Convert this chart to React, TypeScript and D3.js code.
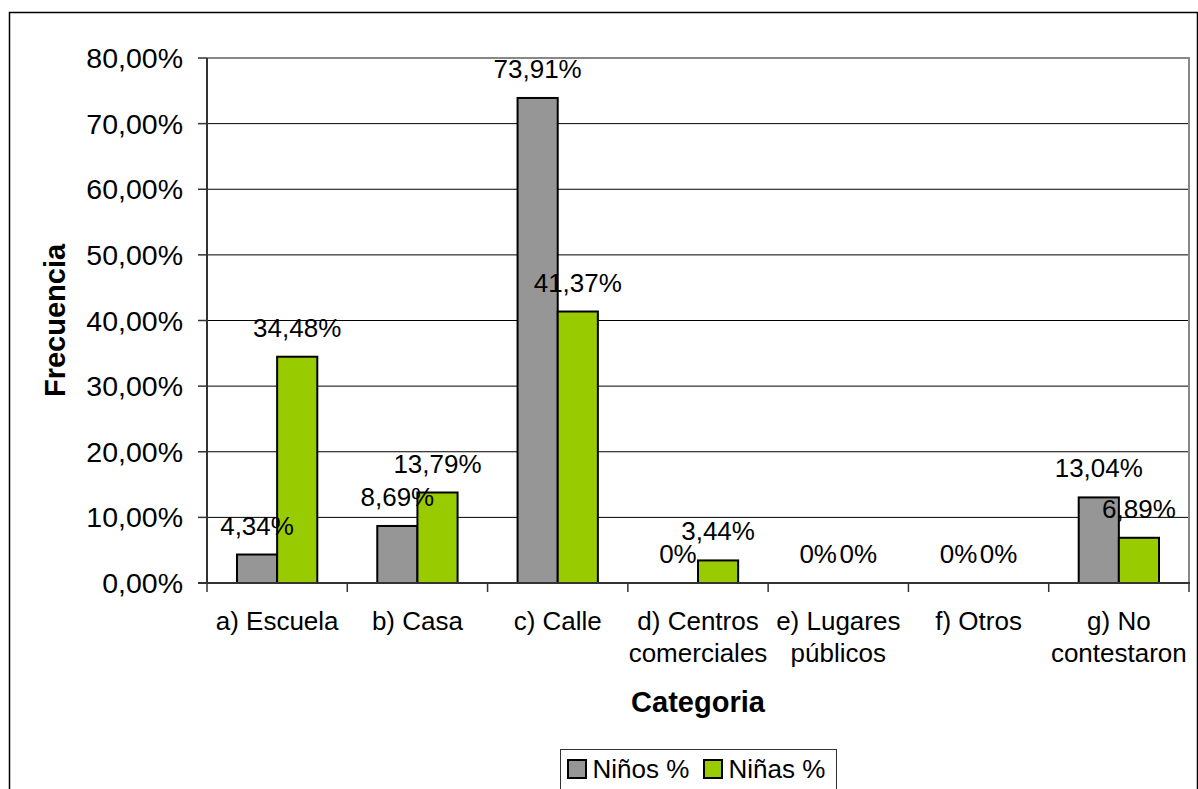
import React from "react";
import * as d3 from "d3";

const categories: string[][] = [
  ["a) Escuela"],
  ["b) Casa"],
  ["c) Calle"],
  ["d) Centros", "comerciales"],
  ["e) Lugares", "públicos"],
  ["f) Otros"],
  ["g) No", "contestaron"],
];
const seriesNames = ["Niños %", "Niñas %"];
const ninos = [4.34, 8.69, 73.91, 0, 0, 0, 13.04];
const ninas = [34.48, 13.79, 41.37, 3.44, 0, 0, 6.89];
const yTicks = [0, 10, 20, 30, 40, 50, 60, 70, 80];
const colors = ["#969696", "#99CC00"];

const W = 1198;
const H = 789;
const FONT = "'Liberation Sans', Arial, sans-serif";

const fmtTick = (v: number) => v.toFixed(2).replace(".", ",") + "%";
const fmtLabel = (v: number) => (v === 0 ? "0%" : v.toFixed(2).replace(".", ",") + "%");

export default function App() {
  const plot = { left: 207, right: 1189, top: 58, bottom: 583 };
  const keys = categories.map((c) => c.join(" "));
  const x = d3.scaleBand<string>().domain(keys).range([plot.left, plot.right]).padding(0);
  const bw = x.bandwidth();
  const inner = d3
    .scaleBand<number>()
    .domain([0, 1])
    .range([bw * 0.2138, bw * 0.7862])
    .padding(0);
  const y = d3.scaleLinear().domain([0, 80]).range([plot.bottom, plot.top]);
  const series = [ninos, ninas];

  return (
    <svg
      width={W}
      height={H}
      style={{ position: "absolute", left: 0, top: 0, background: "#fff" }}
      fontFamily={FONT}
    >
      {/* outer chart frame */}
      <rect x={9.5} y={12.5} width={1188} height={820} fill="none" stroke="#000" strokeWidth={1.5} />

      {/* gridlines */}
      {yTicks
        .filter((t) => t > 0 && t < 80)
        .map((t) => (
          <line key={t} x1={plot.left} x2={plot.right} y1={y(t)} y2={y(t)} stroke="#000" strokeWidth={1} />
        ))}
      {/* plot area border */}
      <line x1={plot.left} x2={plot.right + 1} y1={plot.top} y2={plot.top} stroke="#888" strokeWidth={2} />
      <line x1={plot.right} x2={plot.right} y1={plot.top} y2={plot.bottom} stroke="#888" strokeWidth={2} />

      {/* bars */}
      {series.map((vals, si) =>
        vals.map((v, i) => {
          const x0 = (x(keys[i]) as number) + (inner(si) as number);
          return v > 0 ? (
            <rect
              key={`b${si}-${i}`}
              x={x0}
              y={y(v)}
              width={inner.bandwidth()}
              height={y(0) - y(v)}
              fill={colors[si]}
              stroke="#000"
              strokeWidth={2}
            />
          ) : null;
        })
      )}

      {/* axes */}
      <line x1={plot.left} x2={plot.left} y1={plot.top} y2={plot.bottom} stroke="#333" strokeWidth={2} />
      <line x1={plot.left - 9} x2={plot.right + 1} y1={plot.bottom} y2={plot.bottom} stroke="#333" strokeWidth={2} />
      {yTicks.map((t) => (
        <g key={`t${t}`}>
          <line x1={plot.left - 9} x2={plot.left} y1={y(t)} y2={y(t)} stroke="#333" strokeWidth={1.5} />
          <text x={183} y={y(t) + 10} textAnchor="end" fontSize={28.5} fill="#000">
            {fmtTick(t)}
          </text>
        </g>
      ))}
      {keys.map((k, i) => (
        <line
          key={`xt${i}`}
          x1={(x(k) as number) + bw}
          x2={(x(k) as number) + bw}
          y1={plot.bottom}
          y2={plot.bottom + 9}
          stroke="#333"
          strokeWidth={1.5}
        />
      ))}
      <line x1={plot.left} x2={plot.left} y1={plot.bottom} y2={plot.bottom + 9} stroke="#333" strokeWidth={1.5} />

      {/* category labels */}
      {categories.map((lines, i) => (
        <text key={`c${i}`} textAnchor="middle" fontSize={26} fill="#000">
          {lines.map((ln, j) => (
            <tspan key={j} x={(x(keys[i]) as number) + bw / 2} y={630 + j * 31.5}>
              {ln}
            </tspan>
          ))}
        </text>
      ))}

      {/* data labels */}
      {series.map((vals, si) =>
        vals.map((v, i) => (
          <text
            key={`l${si}-${i}`}
            x={(x(keys[i]) as number) + (inner(si) as number) + inner.bandwidth() / 2}
            y={y(v) - 20}
            textAnchor="middle"
            fontSize={26}
            fill="#000"
          >
            {fmtLabel(v)}
          </text>
        ))
      )}

      {/* axis titles */}
      <text
        transform={`translate(65,${(plot.top + plot.bottom) / 2}) rotate(-90)`}
        textAnchor="middle"
        fontSize={29}
        fontWeight="bold"
        fill="#000"
      >
        Frecuencia
      </text>
      <text x={(plot.left + plot.right) / 2} y={712} textAnchor="middle" fontSize={29} fontWeight="bold" fill="#000">
        Categoria
      </text>

      {/* legend */}
      <rect x={560.5} y={749.5} width={276} height={60} fill="#fff" stroke="#333" strokeWidth={1} />
      {seriesNames.map((name, si) => {
        const lx = si === 0 ? 568 : 704;
        return (
          <g key={name}>
            <rect x={lx} y={760} width={18} height={18} fill={colors[si]} stroke="#000" strokeWidth={2} />
            <text x={lx + 24.5} y={778} fontSize={26} fill="#000">
              {name}
            </text>
          </g>
        );
      })}
    </svg>
  );
}
